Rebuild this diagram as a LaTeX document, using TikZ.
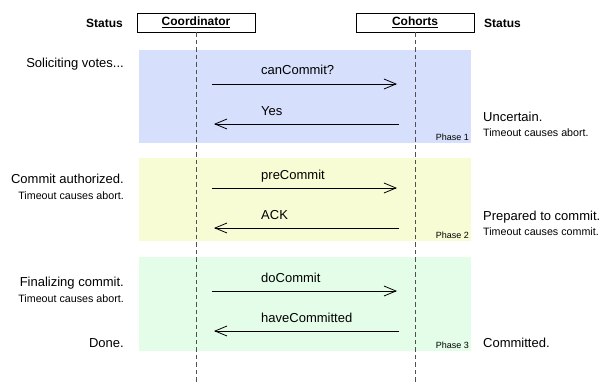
\documentclass[tikz,border=0pt]{standalone}
\usepackage{fontspec}
\setmainfont{Liberation Sans}
\usetikzlibrary{arrows.meta}

\definecolor{phaseblue}{RGB}{214,224,252}
\definecolor{phaseyellow}{RGB}{248,252,212}
\definecolor{phasegreen}{RGB}{228,253,232}
\definecolor{lifegray}{RGB}{80,80,80}

\tikzset{
  status/.style={font=\fontsize{13}{15}\selectfont, inner sep=0pt},
  note/.style={font=\fontsize{10.7}{12}\selectfont, inner sep=0pt},
  phaselbl/.style={font=\fontsize{9}{10}\selectfont, inner sep=0pt, anchor=base east},
  msg/.style={font=\fontsize{13}{15}\selectfont, inner sep=0pt, anchor=base west},
  head/.style={font=\bfseries\fontsize{12}{14}\selectfont, inner sep=0pt},
  actor/.style={draw, fill=white, line width=0.8pt, minimum width=118pt, minimum height=19pt,
    font=\bfseries\fontsize{12}{14}\selectfont, inner sep=0pt},
  lifeline/.style={draw=lifegray, line width=0.9pt, dash pattern=on 4.5pt off 3pt},
  msgarrow/.style={-{Straight Barb[length=12pt,width=10pt]}, line width=0.8pt},
}

\begin{document}
\begin{tikzpicture}[x=1pt,y=-1pt]
  \useasboundingbox (0,0) rectangle (602,383);

  % phases
  \fill[phaseblue] (139,50) rectangle (471,143);
  \fill[phaseyellow] (139,158) rectangle (471,241);
  \fill[phasegreen] (139,257) rectangle (471,351);
  \node[phaselbl] (ph1) at (469,140) {Phase 1};
  \node[phaselbl] (ph2) at (469,238) {Phase 2};
  \node[phaselbl] (ph3) at (469,348) {Phase 3};

  % actors and lifelines
  \node[actor] (coord) at (196,22.5) {\underline{Coordinator}};
  \node[actor] (cohort) at (415,22.5) {\underline{Cohorts}};
  \coordinate (coordend) at (196,383);
  \coordinate (cohortend) at (415,383);
  \draw[lifeline] (coord.south) -- (coordend);
  \draw[lifeline] (cohort.south) -- (cohortend);
  \node[head, anchor=base east] (lstatus) at (123,27) {Status};
  \node[head, anchor=base west] (rstatus) at (484,27) {Status};

  % messages
  \coordinate (m1l) at (212,84);  \coordinate (m1r) at (397,84);
  \coordinate (m2l) at (214,124); \coordinate (m2r) at (399,124);
  \coordinate (m3l) at (212,188); \coordinate (m3r) at (397,188);
  \coordinate (m4l) at (214,228); \coordinate (m4r) at (399,228);
  \coordinate (m5l) at (212,291); \coordinate (m5r) at (397,291);
  \coordinate (m6l) at (214,331); \coordinate (m6r) at (399,331);
  \draw[msgarrow] (m1l) -- (m1r);
  \draw[msgarrow] (m2r) -- (m2l);
  \draw[msgarrow] (m3l) -- (m3r);
  \draw[msgarrow] (m4r) -- (m4l);
  \draw[msgarrow] (m5l) -- (m5r);
  \draw[msgarrow] (m6r) -- (m6l);
  \node[msg] (cancommit) at (261,74) {canCommit?};
  \node[msg] (yes) at (261,115) {Yes};
  \node[msg] (precommit) at (261,179) {preCommit};
  \node[msg] (ack) at (261,219) {ACK};
  \node[msg] (docommit) at (261,282) {doCommit};
  \node[msg] (havecommitted) at (261,322) {haveCommitted};

  % coordinator status
  \node[status, anchor=base east] (soliciting) at (124,67.5) {Soliciting votes...};
  \node[status, anchor=base east] (authorized) at (124,183.5) {Commit authorized.};
  \node[note, anchor=base east] (abort2) at (124,199.8) {Timeout causes abort.};
  \node[status, anchor=base east] (finalizing) at (124,286.5) {Finalizing commit.};
  \node[note, anchor=base east] (abort3) at (124,302.8) {Timeout causes abort.};
  \node[status, anchor=base east] (done) at (124,347.5) {Done.};

  % cohort status
  \node[status, anchor=base west] (uncertain) at (483,121.5) {Uncertain.};
  \node[note, anchor=base west] (abort1) at (483,136) {Timeout causes abort.};
  \node[status, anchor=base west] (prepared) at (483,220.5) {Prepared to commit.};
  \node[note, anchor=base west] (commit2) at (483,235.8) {Timeout causes commit.};
  \node[status, anchor=base west] (committed) at (483,347.5) {Committed.};
\end{tikzpicture}
\end{document}
